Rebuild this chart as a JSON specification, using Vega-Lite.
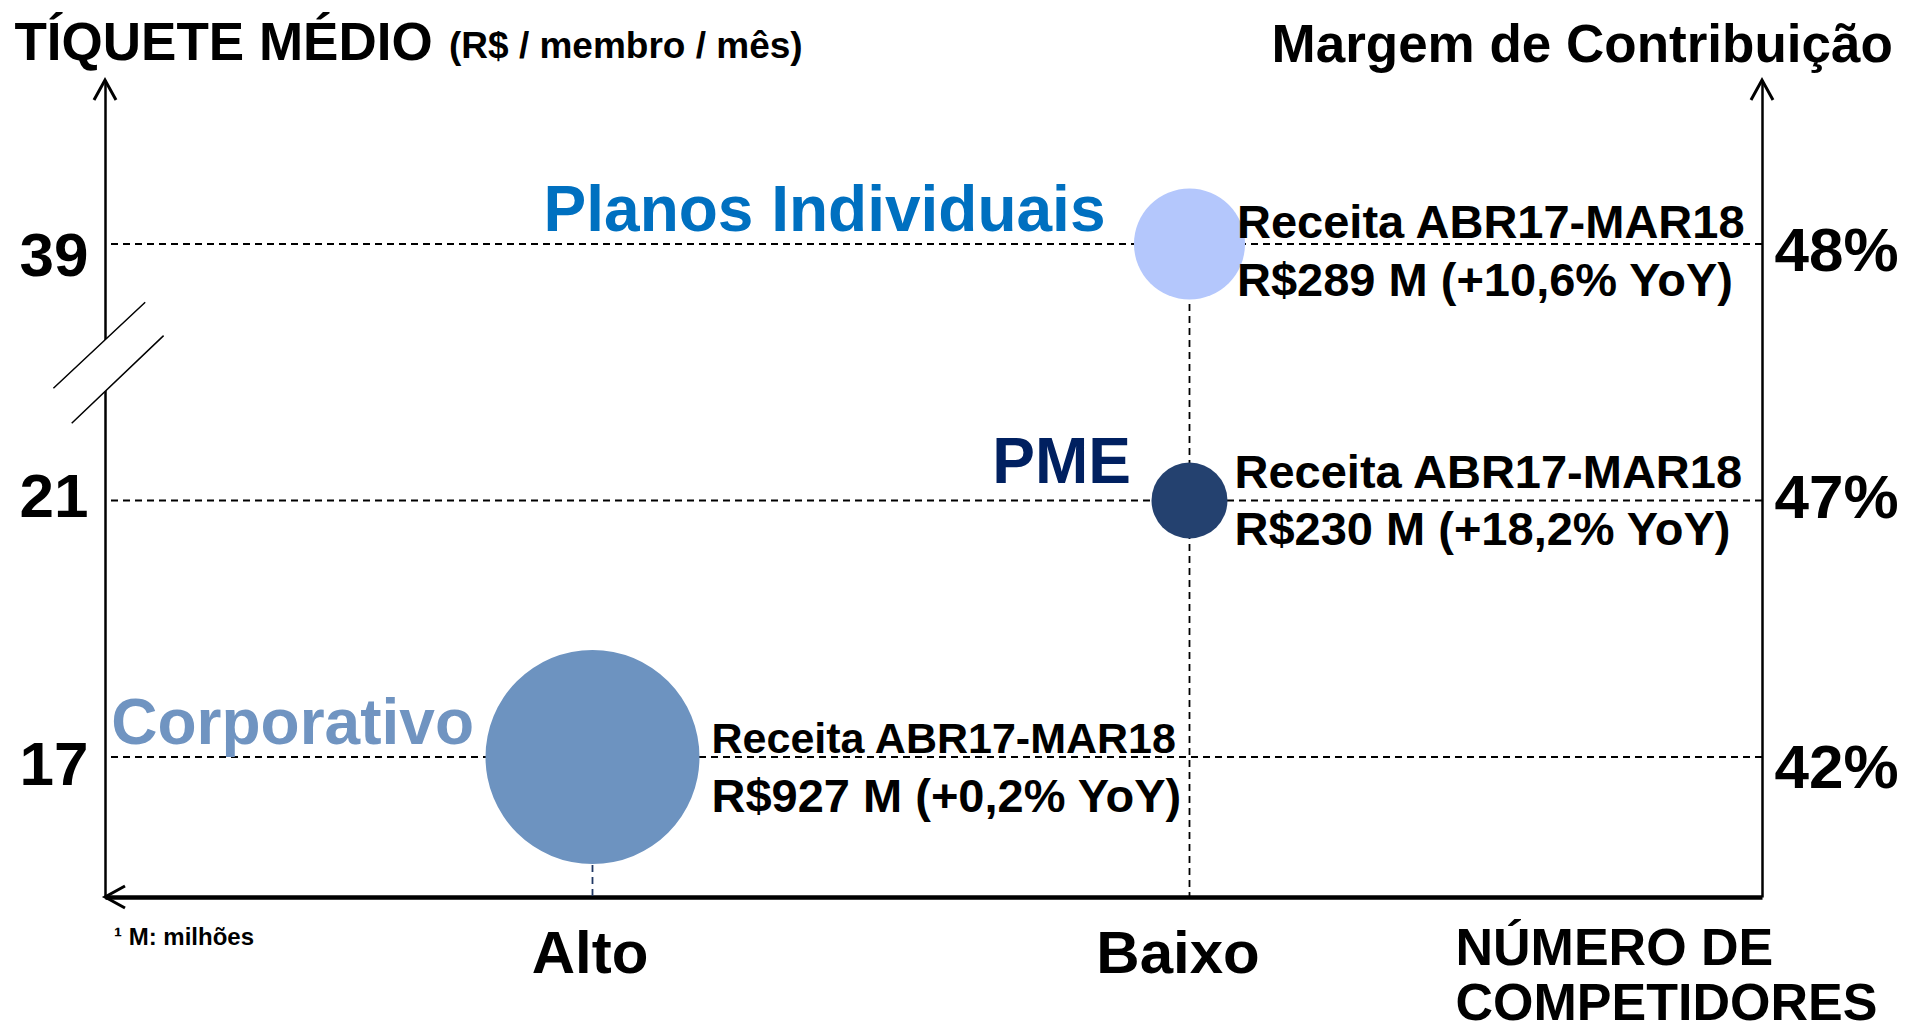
{
  "$schema": "https://vega.github.io/schema/vega-lite/v6.json",
  "usermeta": {"embedOptions": {"actions": false}},
  "width": 1657,
  "height": 817,
  "autosize": {"type": "none"},
  "padding": {"left": 105, "top": 80, "right": 145, "bottom": 134},
  "background": "white",
  "config": {
    "view": {"stroke": null},
    "font": "Liberation Sans",
    "axis": {"labelFont": "Liberation Sans", "titleFont": "Liberation Sans", "labelColor": "black", "titleColor": "black", "grid": false, "labelFontWeight": "bold", "titleFontWeight": "bold"},
    "text": {"font": "Liberation Sans"}
  },
  "datasets": {
    "segmentos": [
      {"segmento": "Planos Individuais", "competidores": "Baixo", "ticket": 39, "margem": 48, "receita": 289, "periodo": "Receita ABR17-MAR18", "receita_txt": "R$289 M (+10,6% YoY)"},
      {"segmento": "PME", "competidores": "Baixo", "ticket": 21, "margem": 47, "receita": 230, "periodo": "Receita ABR17-MAR18", "receita_txt": "R$230 M (+18,2% YoY)"},
      {"segmento": "Corporativo", "competidores": "Alto", "ticket": 17, "margem": 42, "receita": 927, "periodo": "Receita ABR17-MAR18", "receita_txt": "R$927 M (+0,2% YoY)"}
    ],
    "notas": [
      {"unidade": "(R$ / membro / mês)", "nota": "¹ M: milhões"}
    ]
  },
  "layer": [
    {
      "data": {"name": "segmentos"},
      "mark": {"type": "rule", "strokeDash": [7, 5], "strokeWidth": 1.8, "color": "black"},
      "encoding": {
        "y": {
          "field": "margem", "type": "ordinal",
          "scale": {"type": "point", "domain": [48, 47, 42], "padding": 0.5926, "align": 0.5395},
          "axis": {
            "orient": "right", "title": "Margem de Contribuição", "titleAngle": 0, "titleAlign": "left", "titleBaseline": "alphabetic",
            "titleX": -491, "titleY": -19, "titleFontSize": 53,
            "domain": true, "domainColor": "black", "domainWidth": 2.5, "ticks": false, "tickSize": 0,
            "labelFontSize": 62, "labelPadding": 12, "labelBaseline": "middle", "labelExpr": "datum.label + '%'",
            "labelOffset": {"condition": [{"test": "datum.value == 48", "value": 7.6}, {"test": "datum.value == 47", "value": -2}], "value": 11.6}
          }
        }
      }
    },
    {
      "data": {"name": "segmentos"},
      "encoding": {
        "x": {
          "field": "competidores", "type": "nominal",
          "scale": {"type": "point", "domain": ["Alto", "Baixo"], "padding": 0.88777, "align": 0.4599},
          "axis": {
            "orient": "bottom", "labelAngle": 0, "domain": true, "domainColor": "black", "domainWidth": 4.5, "ticks": false, "tickSize": 0,
            "labelFontSize": 60, "labelBaseline": "alphabetic", "labelPadding": 75,
            "labelOffset": {"condition": {"test": "datum.value == 'Baixo'", "value": -12}, "value": -3},
            "title": ["NÚMERO DE", "COMPETIDORES"], "titleFontSize": 52, "titleLineHeight": 55, "titleAlign": "left", "titleBaseline": "alphabetic",
            "titleX": 1350, "titleY": 67
          }
        },
        "y": {
          "field": "ticket", "type": "ordinal",
          "scale": {"type": "point", "domain": [39, 21, 17], "padding": 0.5926, "align": 0.5395},
          "axis": {
            "orient": "left", "title": "TÍQUETE MÉDIO", "titleAngle": 0, "titleAlign": "left", "titleBaseline": "alphabetic",
            "titleX": -91, "titleY": -21, "titleFontSize": 53,
            "domain": true, "domainColor": "black", "domainWidth": 2.5, "ticks": false, "tickSize": 0,
            "labelFontSize": 62, "labelPadding": 17, "labelBaseline": "middle",
            "labelOffset": {"condition": [{"test": "datum.value == 39", "value": 12}, {"test": "datum.value == 21", "value": -3}], "value": 8.3}
          }
        }
      },
      "layer": [
        {
          "transform": [{"aggregate": [{"op": "max", "field": "ticket", "as": "ticket"}], "groupby": ["competidores"]}],
          "mark": {"type": "rule", "strokeDash": [7, 5], "strokeWidth": 1.8},
          "encoding": {
            "y2": {"value": "height"},
            "stroke": {"condition": {"test": "datum.competidores == 'Alto'", "value": "#203864"}, "value": "black"}
          }
        },
        {
          "mark": {"type": "point", "shape": "circle", "filled": true, "opacity": 1, "strokeWidth": 0},
          "encoding": {
            "size": {"field": "receita", "type": "quantitative", "scale": {"type": "log", "domain": [230, 927], "range": [5776, 45796]}, "legend": null},
            "color": {"field": "segmento", "type": "nominal", "scale": {"domain": ["Planos Individuais", "PME", "Corporativo"], "range": ["#b4c7fc", "#24416f", "#6d93c0"]}, "legend": null}
          }
        },
        {
          "transform": [{"filter": "datum.segmento === 'Planos Individuais'"}],
          "mark": {"type": "text", "align": "right", "baseline": "alphabetic", "dx": -84, "dy": -13, "fontSize": 64, "fontWeight": "bold", "color": "#0070c0"},
          "encoding": {"text": {"field": "segmento"}}
        },
        {
          "transform": [{"filter": "datum.segmento === 'PME'"}],
          "mark": {"type": "text", "align": "right", "baseline": "alphabetic", "dx": -58.5, "dy": -17.5, "fontSize": 64, "fontWeight": "bold", "color": "#002060"},
          "encoding": {"text": {"field": "segmento"}}
        },
        {
          "transform": [{"filter": "datum.segmento === 'Corporativo'"}],
          "mark": {"type": "text", "align": "right", "baseline": "alphabetic", "dx": -118.5, "dy": -13, "fontSize": 64, "fontWeight": "bold", "color": "#7094c1"},
          "encoding": {"text": {"field": "segmento"}}
        },
        {
          "transform": [{"filter": "datum.segmento === 'Planos Individuais'"}],
          "mark": {"type": "text", "align": "left", "baseline": "alphabetic", "dx": 47.5, "dy": -6, "fontSize": 47, "fontWeight": "bold", "color": "black"},
          "encoding": {"text": {"field": "periodo"}}
        },
        {
          "transform": [{"filter": "datum.segmento === 'Planos Individuais'"}],
          "mark": {"type": "text", "align": "left", "baseline": "alphabetic", "dx": 47.5, "dy": 52, "fontSize": 47, "fontWeight": "bold", "color": "black"},
          "encoding": {"text": {"field": "receita_txt"}}
        },
        {
          "transform": [{"filter": "datum.segmento === 'PME'"}],
          "mark": {"type": "text", "align": "left", "baseline": "alphabetic", "dx": 45, "dy": -12.5, "fontSize": 47, "fontWeight": "bold", "color": "black"},
          "encoding": {"text": {"field": "periodo"}}
        },
        {
          "transform": [{"filter": "datum.segmento === 'PME'"}],
          "mark": {"type": "text", "align": "left", "baseline": "alphabetic", "dx": 45, "dy": 44.5, "fontSize": 47, "fontWeight": "bold", "color": "black"},
          "encoding": {"text": {"field": "receita_txt"}}
        },
        {
          "transform": [{"filter": "datum.segmento === 'Corporativo'"}],
          "mark": {"type": "text", "align": "left", "baseline": "alphabetic", "dx": 119, "dy": -4, "fontSize": 43, "fontWeight": "bold", "color": "black"},
          "encoding": {"text": {"field": "periodo"}}
        },
        {
          "transform": [{"filter": "datum.segmento === 'Corporativo'"}],
          "mark": {"type": "text", "align": "left", "baseline": "alphabetic", "dx": 119, "dy": 55, "fontSize": 47, "fontWeight": "bold", "color": "black"},
          "encoding": {"text": {"field": "receita_txt"}}
        }
      ]
    },
    {
      "data": {"name": "notas"},
      "layer": [
        {
          "mark": {"type": "point", "shape": "M -0.55 1 L 0 0 L 0.55 1", "size": 1600, "filled": false, "strokeWidth": 3, "color": "black", "opacity": 1},
          "encoding": {
            "x": {"datum": 0, "type": "quantitative", "scale": {"domain": [0, 1], "nice": false, "zero": false}, "axis": null},
            "y": {"datum": 1, "type": "quantitative", "scale": {"domain": [0, 1], "nice": false, "zero": false}, "axis": null}
          }
        },
        {
          "mark": {"type": "point", "shape": "M -0.55 1 L 0 0 L 0.55 1", "size": 1600, "filled": false, "strokeWidth": 3, "color": "black", "opacity": 1},
          "encoding": {
            "x": {"datum": 1, "type": "quantitative", "axis": null},
            "y": {"datum": 1, "type": "quantitative", "axis": null}
          }
        },
        {
          "mark": {"type": "point", "shape": "M 1 -0.55 L 0 0 L 1 0.55", "size": 1600, "filled": false, "strokeWidth": 3, "color": "black", "opacity": 1},
          "encoding": {
            "x": {"datum": 0, "type": "quantitative", "axis": null},
            "y": {"datum": 0, "type": "quantitative", "axis": null}
          }
        },
        {
          "mark": {"type": "point", "shape": "M -5.16 2.23 L 4.02 -6.37 L 5.86 -3.03 L -3.33 5.73 Z", "size": 400, "filled": true, "strokeWidth": 0, "color": "white", "opacity": 1},
          "encoding": {
            "x": {"datum": 0, "type": "quantitative", "axis": null},
            "y": {"datum": 0.65, "type": "quantitative", "axis": null}
          }
        },
        {
          "mark": {"type": "point", "shape": "M -5.16 2.23 L 4.02 -6.37 M -3.33 5.73 L 5.86 -3.03", "size": 400, "filled": false, "strokeWidth": 1.5, "color": "black", "opacity": 1},
          "encoding": {
            "x": {"datum": 0, "type": "quantitative", "axis": null},
            "y": {"datum": 0.65, "type": "quantitative", "axis": null}
          }
        },
        {
          "mark": {"type": "text", "align": "left", "baseline": "alphabetic", "dx": 344, "dy": -22, "fontSize": 37, "fontWeight": "bold", "color": "black"},
          "encoding": {
            "x": {"datum": 0, "type": "quantitative", "axis": null},
            "y": {"datum": 1, "type": "quantitative", "axis": null},
            "text": {"field": "unidade"}
          }
        },
        {
          "mark": {"type": "text", "align": "left", "baseline": "alphabetic", "dx": 9, "dy": 48, "fontSize": 24, "fontWeight": "bold", "color": "black"},
          "encoding": {
            "x": {"datum": 0, "type": "quantitative", "axis": null},
            "y": {"datum": 0, "type": "quantitative", "axis": null},
            "text": {"field": "nota"}
          }
        }
      ]
    }
  ],
  "resolve": {"scale": {"x": "independent", "y": "independent"}}
}
